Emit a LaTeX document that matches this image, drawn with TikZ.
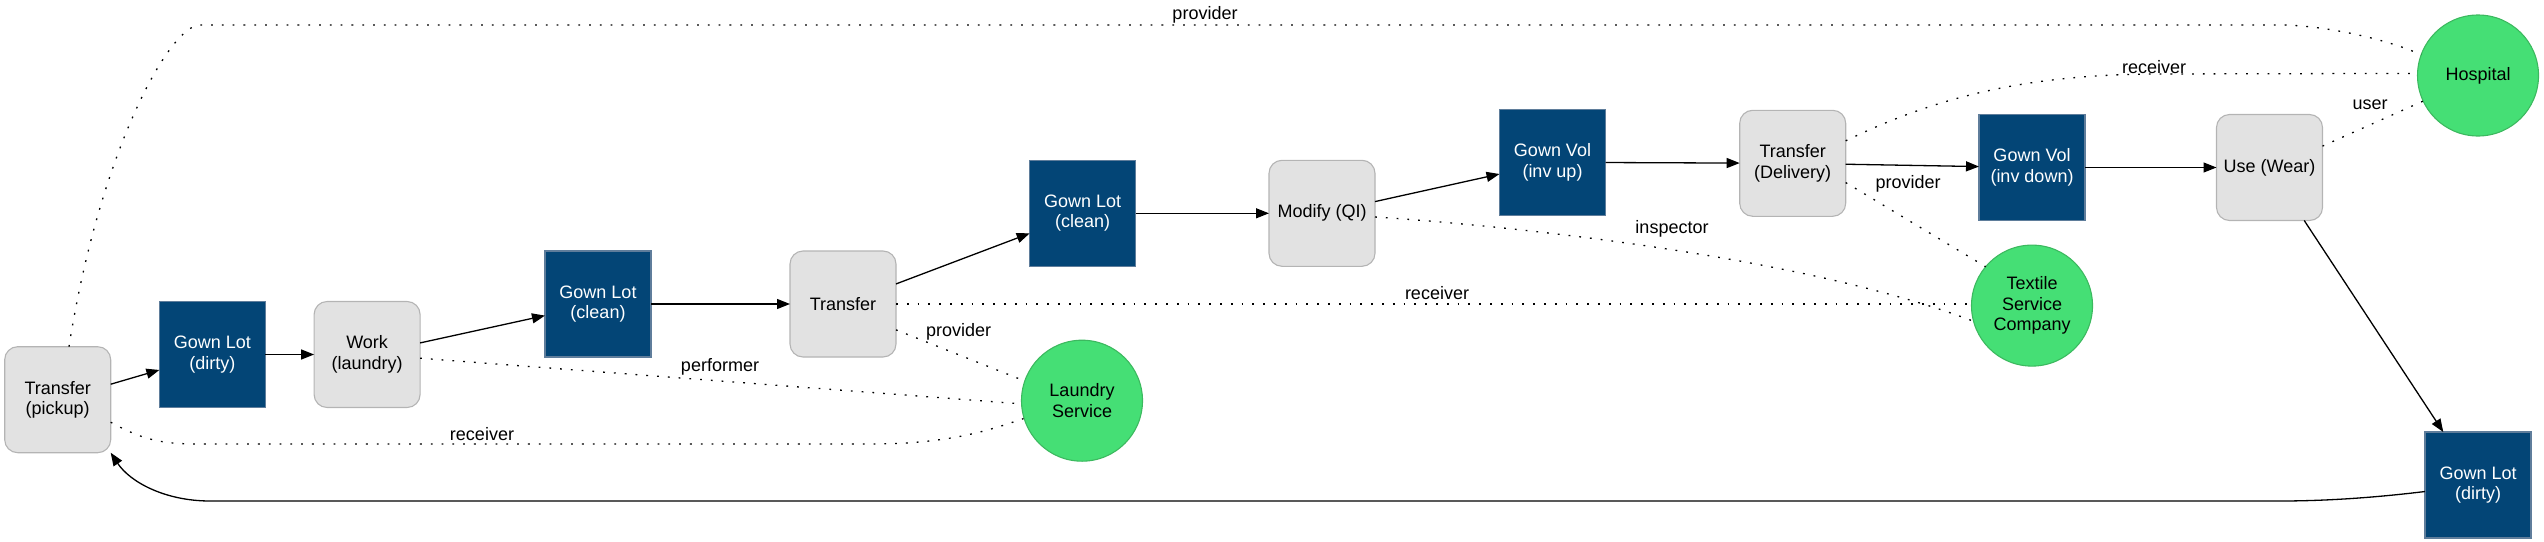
\documentclass[tikz,border=0pt]{standalone}
\usepackage{fontspec}
\setmainfont{Liberation Sans}
\usetikzlibrary{arrows.meta}
\definecolor{lotblue}{RGB}{3,69,118}
\definecolor{lotedge}{RGB}{95,125,155}
\definecolor{actfill}{RGB}{226,226,226}
\definecolor{actedge}{RGB}{180,180,180}
\definecolor{agentfill}{RGB}{69,223,117}
\definecolor{agentedge}{RGB}{60,185,95}
\begin{document}
\begin{tikzpicture}[x=1pt,y=-1pt,
  every node/.style={font=\fontsize{18}{20.5}\selectfont, inner sep=0pt, outer sep=0pt},
  lot/.style={rectangle, fill=lotblue, draw=lotedge, line width=1.1pt, text=white,
    minimum width=106pt, minimum height=106pt, align=center},
  act/.style={rectangle, rounded corners=13pt, fill=actfill, draw=actedge, line width=1.1pt,
    minimum width=106pt, minimum height=106pt, align=center},
  agent/.style={circle, fill=agentfill, draw=agentedge, line width=1.1pt,
    minimum size=121pt, align=center},
  flow/.style={line width=1.3pt, -{Triangle[length=13pt,width=10pt]}},
  role/.style={line width=1.3pt, dash pattern=on 1.8pt off 9pt},
  lbl/.style={anchor=center}
]
\useasboundingbox (0,0) rectangle (2544,541);

% nodes
\node[act]   (pickup)   at (57.7,399.7)  {Transfer\\(pickup)};
\node[lot]   (gld1)     at (212.4,354.5) {Gown Lot\\(dirty)};
\node[act]   (work)     at (367.1,354.5) {Work\\(laundry)};
\node[lot]   (glc1)     at (598,304)     {Gown Lot\\(clean)};
\node[act]   (tr)       at (843,304)     {Transfer};
\node[agent] (laundry)  at (1082,400.7)  {Laundry\\Service};
\node[lot]   (glc2)     at (1082.7,213.3){Gown Lot\\(clean)};
\node[act]   (modify)   at (1322,213.3)  {Modify (QI)};
\node[lot]   (gvup)     at (1552.5,162.3){Gown Vol\\(inv up)};
\node[act]   (td)       at (1792.7,163.3){Transfer\\(Delivery)};
\node[lot]   (gvdown)   at (2032,167.5)  {Gown Vol\\(inv down)};
\node[act]   (use)      at (2269.5,167.5){Use (Wear)};
\node[agent] (hospital) at (2478,75.5)   {Hospital};
\node[agent] (textile)  at (2032,305.6)  {Textile\\Service\\Company};
\node[lot]   (gld2)     at (2478,485)    {Gown Lot\\(dirty)};

% flow edges
\draw[flow] (pickup) -- (gld1);
\draw[flow] (gld1) -- (work);
\draw[flow] (work) -- (glc1);
\draw[flow] (glc1) -- (tr);
\draw[flow] (tr) -- (glc2);
\draw[flow] (glc2) -- (modify);
\draw[flow] (modify) -- (gvup);
\draw[flow] (gvup) -- (td);
\draw[flow] (td) -- (gvdown);
\draw[flow] (gvdown) -- (use);
\draw[flow] (use) -- (gld2);
\draw[flow] (gld2.187) .. controls (2380,497) and (2330,501) .. (2280,501)
  -- (210,501) .. controls (165,501) and (130,482) .. (pickup.-45);

% role edges
\draw[role] (pickup.78) .. controls (100,150) and (170,25) .. (200,25)
  -- (2280,25) .. controls (2320,25) and (2385,38) .. (hospital.160);
\node[lbl] (l1) at (1205,15) {provider};

\draw[role] (pickup.-23) .. controls (150,444) and (170,444) .. (210,444)
  -- (870,444) .. controls (950,444) and (990,430) .. (laundry.197);
\node[lbl] (l2) at (482,434) {receiver};

\draw[role] (work.-4) -- (laundry.183);
\node[lbl] (l3) at (720,366.7) {performer};

\draw[role] (tr.-26) -- (laundry.161);
\node[lbl] (l4) at (958.6,332) {provider};

\draw[role] (tr.east) -- (tr.east -| textile.west);
\node[lbl] (l5) at (1437,293.5) {receiver};

\draw[role] (modify.-4) .. controls (1500,225) and (1800,255) .. (textile.195);
\node[lbl] (l6) at (1672,229) {inspector};

\draw[role] (td.-20) -- (textile.140);
\node[lbl] (l7) at (1908,183.5) {provider};

\draw[role] (td.23) .. controls (1930,100) and (2020,74) .. (2160,74) -- (hospital.178);
\node[lbl] (l8) at (2154,66.8) {receiver};

\draw[role] (use.22) -- (hospital.205);
\node[lbl] (l9) at (2370,105) {user};
\end{tikzpicture}
\end{document}
